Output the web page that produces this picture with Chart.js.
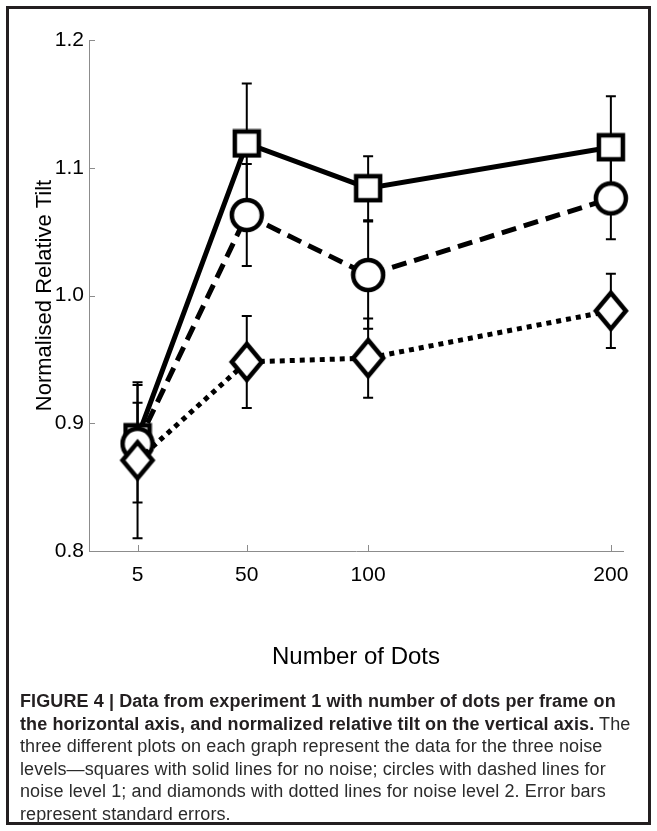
<!DOCTYPE html>
<html>
<head>
<meta charset="utf-8">
<script src="https://cdn.jsdelivr.net/npm/chart.js@4.4.0/dist/chart.umd.min.js"></script>
<style>
  html, body { margin: 0; padding: 0; background: #fff; }
  body { width: 657px; height: 831px; position: relative; overflow: hidden; }
  #wrap { position: absolute; left: 0; top: 0; width: 657px; height: 690px; }
  #frame { position: absolute; left: 6px; top: 6px; width: 639px; height: 813px; border: 3px solid #231f20; pointer-events: none; }
  #caption { position: absolute; left: 20px; top: 690px; font-family: "Liberation Sans Narrow", "Arial Narrow", "Liberation Sans", sans-serif; font-size: 18px; letter-spacing: 0.1px; line-height: 22.5px; color: #2b2b2b; white-space: nowrap; }
  #caption b { color: #231f20; }
</style>
</head>
<body>
<div id="wrap"><canvas id="fig" width="657" height="690"></canvas></div>
<div id="frame"></div>
<div id="caption">
  <b>FIGURE 4 | Data from experiment 1 with number of dots per frame on</b><br>
  <b>the horizontal axis, and normalized relative tilt on the vertical axis.</b> The<br>
  three different plots on each graph represent the data for the three noise<br>
  levels—squares with solid lines for no noise; circles with dashed lines for<br>
  noise level 1; and diamonds with dotted lines for noise level 2. Error bars<br>
  represent standard errors.
</div>
<script>
// values
const dotCounts = [5, 50, 100, 200];
const xTicks = [5, 50, 100, 200];
const yTicks = [0.8, 0.9, 1.0, 1.1, 1.2];

const noNoise = [0.889, 1.119, 1.084, 1.116];
const noNoiseErr = [0.027, 0.047, 0.025, 0.040];
const noise1 = [0.884, 1.063, 1.016, 1.076];
const noise1Err = [0.046, 0.040, 0.042, 0.032];
const noise2 = [0.871, 0.948, 0.951, 0.988];
const noise2Err = [0.061, 0.036, 0.031, 0.029];

// open markers drawn once on small canvases
function makeMarker(shape) {
  const c = document.createElement("canvas");
  let w = 30, h = 30;
  if (shape === "circle") { w = 36; h = 36; }
  if (shape === "diamond") { w = 38; h = 46; }
  c.width = w;
  c.height = h;
  const g = c.getContext("2d");
  g.lineWidth = 4.5;
  g.strokeStyle = "#000";
  g.fillStyle = "#fff";
  g.beginPath();
  if (shape === "square") g.rect(3, 3, w - 6, h - 6);
  if (shape === "circle") g.arc(w / 2, h / 2, w / 2 - 3, 0, Math.PI * 2);
  if (shape === "diamond") {
    g.moveTo(w / 2, 5);
    g.lineTo(w - 4, h / 2);
    g.lineTo(w / 2, h - 5);
    g.lineTo(4, h / 2);
    g.closePath();
  }
  g.fill();
  g.stroke();
  return c;
}

function toPoints(values) {
  return values.map((v, i) => ({ x: dotCounts[i], y: v }));
}

// error bars, drawn under the markers
const errorBars = {
  id: "errorBars",
  beforeDatasetsDraw(chart) {
    const { ctx, scales: { x, y } } = chart;
    ctx.save();
    ctx.strokeStyle = "#000";
    ctx.lineWidth = 2;
    chart.data.datasets.forEach((ds) => {
      ds.data.forEach((p, i) => {
        const px = x.getPixelForValue(p.x);
        const top = y.getPixelForValue(p.y + ds.errors[i]);
        const bot = y.getPixelForValue(p.y - ds.errors[i]);
        ctx.beginPath();
        ctx.moveTo(px, top);
        ctx.lineTo(px, bot);
        ctx.moveTo(px - 5, top);
        ctx.lineTo(px + 5, top);
        ctx.moveTo(px - 5, bot);
        ctx.lineTo(px + 5, bot);
        ctx.stroke();
      });
    });
    ctx.restore();
  },
};

// matlab style ticks pointing into the plot
const inwardTicks = {
  id: "inwardTicks",
  beforeDatasetsDraw(chart) {
    const { ctx, chartArea: a, scales: { x, y } } = chart;
    ctx.save();
    ctx.strokeStyle = "#8c8c8c";
    ctx.lineWidth = 1;
    ctx.beginPath();
    x.ticks.forEach((t) => {
      const px = Math.round(x.getPixelForValue(t.value)) + 0.5;
      ctx.moveTo(px, a.bottom);
      ctx.lineTo(px, a.bottom - 6);
    });
    y.ticks.forEach((t) => {
      const py = Math.round(y.getPixelForValue(t.value)) + 0.5;
      ctx.moveTo(a.left, py);
      ctx.lineTo(a.left + 6, py);
    });
    ctx.stroke();
    ctx.restore();
  },
};

const axisFont = { family: "'Liberation Sans', Arial, sans-serif", size: 21 };

new Chart(document.getElementById("fig"), {
  type: "scatter",
  data: {
    datasets: [
      {
        label: "no noise",
        data: toPoints(noNoise),
        errors: noNoiseErr,
        showLine: true,
        clip: false,
        borderColor: "#000",
        borderWidth: 5,
        pointStyle: makeMarker("square"),
        order: 3,
      },
      {
        label: "noise level 1",
        data: toPoints(noise1),
        errors: noise1Err,
        showLine: true,
        clip: false,
        borderColor: "#000",
        borderWidth: 5,
        borderDash: [15, 8],
        pointStyle: makeMarker("circle"),
        order: 2,
      },
      {
        label: "noise level 2",
        data: toPoints(noise2),
        errors: noise2Err,
        showLine: true,
        clip: false,
        borderColor: "#000",
        borderWidth: 5,
        borderDash: [5, 5],
        pointStyle: makeMarker("diamond"),
        order: 1,
      },
    ],
  },
  options: {
    responsive: false,
    animation: false,
    layout: { padding: { top: 40, right: 34, left: 0, bottom: 0 } },
    plugins: { legend: { display: false }, tooltip: { enabled: false } },
    scales: {
      x: {
        type: "linear",
        min: -15,
        max: 205,
        afterBuildTicks: (s) => { s.ticks = xTicks.map((v) => ({ value: v })); },
        afterFit: (s) => { s.height = 139; },
        grid: { display: false, drawTicks: false },
        border: { color: "#8c8c8c", width: 1 },
        ticks: { color: "#000", padding: 12, font: axisFont, maxRotation: 0, autoSkip: false },
        title: {
          display: true,
          text: "Number of Dots",
          color: "#000",
          font: { family: "'Liberation Sans', Arial, sans-serif", size: 24 },
          padding: { top: 0, bottom: 18 },
        },
      },
      y: {
        type: "linear",
        min: 0.8,
        max: 1.2,
        afterBuildTicks: (s) => { s.ticks = yTicks.map((v) => ({ value: v })); },
        afterFit: (s) => { s.width = 89; },
        grid: { display: false, drawTicks: false },
        border: { color: "#8c8c8c", width: 1 },
        ticks: { color: "#000", padding: 5, font: axisFont, callback: (v) => v.toFixed(1) },
        title: {
          display: true,
          text: "Normalised Relative Tilt",
          color: "#000",
          font: { family: "'Liberation Sans', Arial, sans-serif", size: 22 },
          padding: { top: 32, bottom: 0 },
        },
      },
    },
  },
  plugins: [errorBars, inwardTicks],
});
</script>
</body>
</html>
